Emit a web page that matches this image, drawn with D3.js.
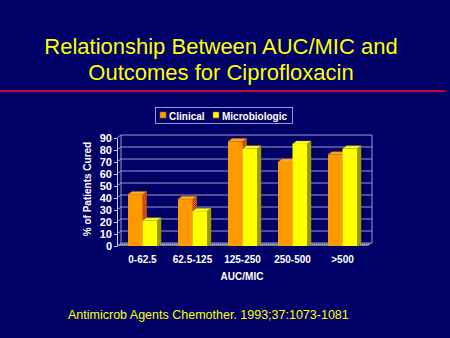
<!DOCTYPE html>
<html>
<head>
<meta charset="utf-8">
<script src="https://cdn.jsdelivr.net/npm/d3@7"></script>
<style>
body { margin: 0; background: #000066; }
</style>
</head>
<body>
<script>
var categories = ["0-62.5", "62.5-125", "125-250", "250-500", ">500"];
var seriesNames = ["Clinical", "Microbiologic"];
var clinical = [43, 39, 87, 70, 76];
var microbiologic = [21, 29, 81, 85, 81];
var yTicks = [0, 10, 20, 30, 40, 50, 60, 70, 80, 90];

var width = 450;
var height = 338;
var dx = 4, dy = -3;   // 3d depth offset

var svg = d3.select("body")
	.append("svg")
		.attr("width", width)
		.attr("height", height)
		.style("background-color", "#000066");

var defs = svg.append("defs");
var chk = defs.append("pattern")
	.attr("id", "chk")
	.attr("width", 2).attr("height", 2)
	.attr("patternUnits", "userSpaceOnUse");
chk.append("rect").attr("width", 2).attr("height", 2).attr("fill", "#ff6600");
chk.append("rect").attr("width", 1).attr("height", 1).attr("fill", "#993333");
chk.append("rect").attr("x", 1).attr("y", 1).attr("width", 1).attr("height", 1).attr("fill", "#993333");

var flr = defs.append("pattern")
	.attr("id", "flr")
	.attr("width", 2).attr("height", 2)
	.attr("patternUnits", "userSpaceOnUse");
flr.append("rect").attr("width", 2).attr("height", 2).attr("fill", "#777799");
flr.append("rect").attr("width", 1).attr("height", 1).attr("fill", "#bbbbbb");

// title
var title = svg.append("text")
	.attr("x", 221)
	.attr("text-anchor", "middle")
	.attr("font-family", "Liberation Sans, Arial, sans-serif")
	.attr("font-size", "22px")
	.style("fill", "#ffff00");
title.append("tspan").attr("x", 221).attr("y", 54).text("Relationship Between AUC/MIC and");
title.append("tspan").attr("x", 221).attr("y", 80).text("Outcomes for Ciprofloxacin");

svg.append("line")
	.attr("x1", 0).attr("x2", 445)
	.attr("y1", 91).attr("y2", 91)
	.attr("stroke", "#cc0033")
	.attr("stroke-width", 2);

// legend
var lg = svg.append("g");
lg.append("rect")
	.attr("x", 155.5).attr("y", 107.5)
	.attr("width", 137).attr("height", 16)
	.attr("fill", "none")
	.attr("stroke", "#9999cc");
var legendX = [160, 213];
var legendColors = ["#ff9900", "#ffff00"];
seriesNames.forEach((s, i) => {
	lg.append("rect")
		.attr("x", legendX[i]).attr("y", 112)
		.attr("width", 6).attr("height", 6)
		.attr("fill", legendColors[i])
		.attr("stroke", "#996600")
		.attr("stroke-width", 0.5);
	lg.append("text")
		.attr("x", legendX[i] + 9).attr("y", 119.5)
		.attr("font-family", "Liberation Sans, Arial, sans-serif")
		.attr("font-size", "10px")
		.attr("font-weight", "bold")
		.style("fill", "white")
		.text(s);
});

// scales
var x = d3.scaleBand()
	.domain(categories)
	.range([117, 368])
	.paddingInner(0.42)
	.paddingOuter(0.22);

var xs = d3.scaleBand()
	.domain(seriesNames)
	.range([0, x.bandwidth()]);

var y = d3.scaleLinear()
	.domain([0, 90])
	.range([246, 138]);

var x0 = 117, x1 = 368;

// back wall gridlines + side wall
var grid = svg.append("g")
	.attr("stroke", "#9999cc")
	.attr("stroke-width", 1)
	.attr("fill", "none");
yTicks.forEach((t) => {
	grid.append("line")
		.attr("x1", x0 + dx).attr("x2", x1 + dx)
		.attr("y1", y(t) + dy).attr("y2", y(t) + dy);
	grid.append("line")
		.attr("x1", x0).attr("x2", x0 + dx)
		.attr("y1", y(t)).attr("y2", y(t) + dy);
});
grid.append("line")
	.attr("x1", x0 + dx).attr("x2", x0 + dx)
	.attr("y1", y(90) + dy).attr("y2", y(0) + dy);
grid.append("line")
	.attr("x1", x1 + dx).attr("x2", x1 + dx)
	.attr("y1", y(90) + dy).attr("y2", y(0) + dy);

// floor
svg.append("polygon")
	.attr("points", [[x0, y(0)], [x1, y(0)], [x1 + dx, y(0) + dy], [x0 + dx, y(0) + dy]].join(" "))
	.attr("fill", "url(#flr)");

// front y axis
var leftAxis = d3.axisLeft(y)
	.tickValues(yTicks)
	.tickSize(3)
	.tickSizeOuter(0);
var ya = svg.append("g")
	.attr("transform", "translate(" + x0 + ",0)")
	.call(leftAxis);
ya.select(".domain").attr("stroke", "#ccccee");
ya.selectAll(".tick line").attr("stroke", "#ccccee");
ya.selectAll(".tick text")
	.attr("x", -5)
	.attr("font-family", "Liberation Sans, Arial, sans-serif")
	.attr("font-size", "11px")
	.attr("font-weight", "bold")
	.style("fill", "white");

// bars
var series = [
	{ name: "Clinical", values: clinical, front: "#ff9900", top: "#ffaa22", side: "url(#chk)", edge: "#cc6600" },
	{ name: "Microbiologic", values: microbiologic, front: "#ffff00", top: "#ffff33", side: "#999900", edge: "#999900" }
];

var bars = svg.append("g");
categories.forEach((c, ci) => {
	series.forEach((s) => {
		var bx = x(c) + xs(s.name);
		var bw = xs.bandwidth();
		var by = y(s.values[ci]);
		var b0 = y(0);
		var g = bars.append("g");
		g.append("polygon")
			.attr("points", [[bx + bw, by], [bx + bw + dx, by + dy], [bx + bw + dx, b0 + dy], [bx + bw, b0]].join(" "))
			.attr("fill", s.side)
			.attr("stroke", s.edge)
			.attr("stroke-width", 0.5);
		g.append("polygon")
			.attr("points", [[bx, by], [bx + dx, by + dy], [bx + bw + dx, by + dy], [bx + bw, by]].join(" "))
			.attr("fill", s.top)
			.attr("stroke", s.edge)
			.attr("stroke-width", 0.5);
		g.append("rect")
			.attr("x", bx).attr("y", by)
			.attr("width", bw).attr("height", b0 - by)
			.attr("fill", s.front);
	});
});

// x labels
svg.append("g")
	.selectAll("text")
	.data(categories)
	.enter()
	.append("text")
		.attr("x", (d) => x(d) + x.bandwidth() / 2)
		.attr("y", 263)
		.attr("text-anchor", "middle")
		.attr("font-family", "Liberation Sans, Arial, sans-serif")
		.attr("font-size", "10px")
		.attr("font-weight", "bold")
		.style("fill", "white")
		.text((d) => d);

svg.append("text")
	.attr("x", 242)
	.attr("y", 280)
	.attr("text-anchor", "middle")
	.attr("font-family", "Liberation Sans, Arial, sans-serif")
	.attr("font-size", "10px")
	.attr("font-weight", "bold")
	.style("fill", "white")
	.text("AUC/MIC");

svg.append("text")
	.attr("x", -189)
	.attr("y", 91)
	.attr("transform", "rotate(-90)")
	.attr("text-anchor", "middle")
	.attr("font-family", "Liberation Sans, Arial, sans-serif")
	.attr("font-size", "10px")
	.attr("font-weight", "bold")
	.style("fill", "white")
	.text("% of Patients Cured");

svg.append("text")
	.attr("x", 68)
	.attr("y", 319)
	.attr("font-family", "Liberation Sans, Arial, sans-serif")
	.attr("font-size", "12.5px")
	.style("fill", "#ffff00")
	.text("Antimicrob Agents Chemother. 1993;37:1073-1081");
</script>
</body>
</html>
